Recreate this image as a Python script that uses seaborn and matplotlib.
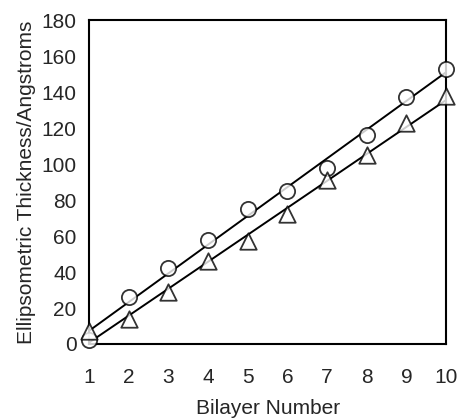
import numpy as np
import pandas as pd
import seaborn as sns
import matplotlib
matplotlib.use("Agg")
import matplotlib.pyplot as plt

bilayers = [1, 2, 3, 4, 5, 6, 7, 8, 9, 10]
circle_thickness = [2, 26, 42, 58, 75, 85, 98, 116, 137, 153]
triangle_thickness = [7, 14, 29, 46, 57, 72, 91, 105, 123, 138]
y_ticks = [0, 20, 40, 60, 80, 100, 120, 140, 160, 180]

sns.set_style("white")
plt.rcParams['font.family'] = ['Liberation Sans', 'DejaVu Sans']
plt.rcParams['font.size'] = 15

df = pd.DataFrame({"bilayer": bilayers, "circle": circle_thickness, "triangle": triangle_thickness})

fig = plt.figure(figsize=(4.59, 4.19), dpi=100)
ax = fig.add_axes([0.194, 0.179, 0.778, 0.773])

for col, mk, sz in [("circle", "o", 120), ("triangle", "^", 140)]:
    sns.regplot(data=df, x="bilayer", y=col, ax=ax, ci=None, marker=mk,
                scatter_kws=dict(s=sz, facecolors="white", edgecolors="black", linewidths=1.3, zorder=3, clip_on=False),
                line_kws=dict(color="black", lw=1.4, zorder=2))

ax.set_xlim(1, 10)
ax.set_ylim(0, 180)
ax.set_xticks(bilayers)
ax.set_yticks(y_ticks)
for s in ax.spines.values():
    s.set_color("black")
    s.set_linewidth(1.5)
ax.tick_params(axis="both", direction="out", length=5, width=1, color="#555555", labelsize=15)
ax.tick_params(axis="x", pad=12)
ax.tick_params(axis="y", pad=4)
ax.set_xlabel("Bilayer Number", fontsize=15, labelpad=9)
ax.set_ylabel("Ellipsometric Thickness/Angstroms", fontsize=15, labelpad=4)

fig.savefig("out.png", dpi=100)
